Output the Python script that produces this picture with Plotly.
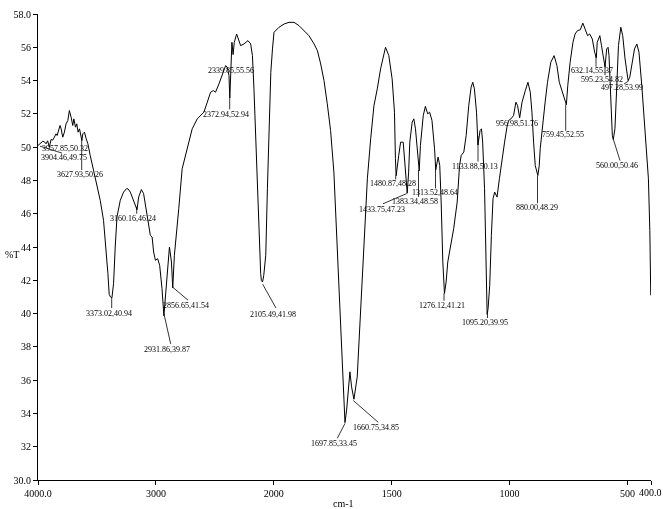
import plotly.graph_objects as go

# ---------------- data ----------------
wavenumber = [
    4000, 3985, 3974, 3960, 3946, 3932, 3918, 3904, 3889, 3875, 3861, 3847, 3838, 3824, 3813,
    3804, 3790, 3776, 3762, 3747, 3734, 3719, 3705, 3696, 3682, 3671, 3660, 3648, 3634, 3628,
    3620, 3606, 3591, 3577, 3557, 3529, 3500, 3472, 3444, 3424, 3407, 3396, 3385, 3373, 3359,
    3345, 3330, 3302, 3274, 3250, 3237, 3217, 3189, 3170, 3160, 3146, 3123, 3104, 3081, 3061,
    3047, 3032, 3019, 3004, 2985, 2968, 2948, 2932, 2913, 2899, 2885, 2868, 2857, 2843, 2826,
    2806, 2777, 2735, 2692, 2649, 2607, 2593, 2564, 2536, 2513, 2494, 2465, 2437, 2408, 2394,
    2380, 2373, 2366, 2355, 2345, 2335, 2315, 2295, 2281, 2253, 2219, 2196, 2181, 2168, 2153,
    2139, 2125, 2111, 2105, 2095, 2085, 2068, 2054, 2040, 2025, 2011, 1999, 1978, 1956, 1935,
    1914, 1893, 1872, 1851, 1829, 1815, 1801, 1787, 1773, 1759, 1745, 1730, 1716, 1705, 1698,
    1691, 1684, 1677, 1670, 1660, 1646, 1632, 1618, 1603, 1589, 1575, 1561, 1547, 1526, 1512,
    1498, 1488, 1484, 1481, 1470, 1462, 1451, 1445, 1434, 1428, 1423, 1413, 1406, 1399, 1389,
    1383, 1378, 1366, 1357, 1347, 1339, 1329, 1318, 1313, 1303, 1296, 1290, 1283, 1276, 1269,
    1262, 1251, 1237, 1222, 1212, 1205, 1194, 1184, 1173, 1163, 1156, 1149, 1140, 1134, 1125,
    1119, 1114, 1106, 1099, 1095, 1091, 1084, 1077, 1070, 1063, 1053, 1043, 1032, 1021, 1011,
    1004, 994, 983, 973, 966, 957, 947, 933, 922, 912, 905, 898, 891, 880, 874,
    870, 858, 849, 839, 825, 811, 799, 789, 778, 771, 759, 753, 743, 731, 722,
    712, 700, 689, 679, 669, 660, 649, 639, 632, 628, 617, 610, 603, 595, 588,
    582, 578, 571, 564, 560, 553, 545, 538, 528, 520, 510, 500, 497, 490, 482,
    470, 460, 451, 439, 425, 411, 405, 401,
]
transmittance = [
    50.10, 50.20, 50.26, 50.35, 50.32, 50.20, 50.38, 50.00, 50.46, 50.42, 50.60, 50.80, 50.70, 51.00, 51.30,
    51.10, 50.60, 50.90, 51.40, 51.60, 52.20, 51.80, 51.30, 51.70, 51.20, 51.40, 50.90, 51.10, 50.60, 50.40,
    50.80, 50.90, 50.50, 50.20, 49.50, 48.60, 47.80, 46.80, 45.60, 44.00, 42.40, 41.15, 41.00, 40.94, 41.80,
    44.00, 45.80, 46.80, 47.30, 47.50, 47.50, 47.30, 46.80, 46.50, 46.24, 47.00, 47.45, 47.20, 46.20, 45.20,
    44.70, 44.60, 43.70, 43.20, 43.30, 42.90, 41.50, 39.87, 41.70, 43.10, 44.00, 43.10, 41.54, 43.50, 44.70,
    46.30, 48.70, 49.90, 51.10, 51.70, 52.00, 52.10, 52.70, 53.30, 53.40, 53.30, 53.80, 54.40, 54.90, 54.80,
    54.30, 52.94, 54.50, 56.30, 55.56, 56.30, 56.80, 56.30, 56.10, 56.20, 56.40, 56.20, 55.50, 53.50, 50.50,
    47.50, 44.50, 42.40, 41.98, 41.90, 42.30, 43.50, 47.50, 51.50, 54.50, 55.90, 56.90, 57.20, 57.40, 57.50,
    57.50, 57.30, 57.00, 56.70, 56.20, 55.80, 55.00, 54.00, 52.60, 51.00, 48.50, 43.50, 39.20, 35.20, 33.45,
    34.20, 35.60, 36.50, 35.60, 34.85, 36.20, 40.10, 44.10, 48.10, 50.50, 52.50, 53.50, 54.70, 56.00, 55.50,
    54.10, 52.10, 49.30, 48.28, 49.50, 50.30, 50.30, 49.30, 47.23, 48.50, 50.30, 51.50, 51.70, 51.10, 49.30,
    48.58, 50.10, 51.90, 52.45, 52.00, 52.10, 51.60, 49.90, 48.64, 49.40, 48.90, 46.70, 43.10, 41.21, 41.90,
    43.10, 43.90, 45.10, 46.70, 48.90, 49.50, 49.70, 50.70, 52.50, 53.60, 53.90, 53.50, 52.10, 50.13, 51.00,
    51.10, 50.30, 47.50, 42.70, 39.95, 40.30, 41.70, 44.70, 46.90, 47.30, 47.00, 48.10, 49.30, 50.30, 51.20,
    51.60, 51.70, 51.90, 52.70, 52.50, 51.76, 52.70, 53.40, 53.90, 53.30, 52.10, 50.30, 48.90, 48.29, 48.90,
    49.90, 51.30, 52.70, 53.90, 55.10, 55.50, 54.90, 53.90, 53.40, 53.10, 52.55, 53.70, 55.10, 56.30, 56.80,
    57.00, 57.05, 57.45, 57.10, 56.70, 56.80, 56.50, 55.70, 55.37, 56.30, 56.70, 56.10, 55.40, 54.82, 55.90,
    56.00, 55.50, 53.50, 50.70, 50.46, 51.10, 53.70, 56.10, 57.20, 56.70, 55.30, 54.10, 53.99, 54.20, 54.90,
    55.90, 56.20, 55.70, 53.70, 50.70, 48.10, 45.00, 41.10,
]

tick_wavenumbers = [4000, 3000, 2000, 1500, 1000, 500, 400]
tick_labels = ["4000.0", "3000", "2000", "1500", "1000", "500", ""]
y_ticks = list(range(30, 59, 2))
y_tick_labels = ["30.0"] + [str(v) for v in range(32, 58, 2)] + ["58.0"]

peak_labels = [
    "3957.85,50.32", "3904.46,49.75", "3627.93,50.26", "3373.02,40.94", "3160.16,46.24",
    "2931.86,39.87", "2856.65,41.54", "2105.49,41.98", "2372.94,52.94", "2339.85,55.56",
    "1697.85,33.45", "1660.75,34.85", "1480.87,48.28", "1433.75,47.23", "1383.34,48.58",
    "1313.52,48.64", "1276.12,41.21", "1133.88,50.13", "1095.20,39.95", "956.98,51.76",
    "880.00,48.29", "759.45,52.55", "632.14,55.37", "595.23,54.82", "560.00,50.46",
    "497.28,53.99",
]

# ---------------- layout helpers ----------------
W, H = 663, 509
ML, MR, MT, MB = 38, 12, 8, 29
PW, PH = W - ML - MR, H - MT - MB
U_LEFT, U_RIGHT = 3000.0, 400.0
Y_LO, Y_HI = 30.0, 58.0

# reference pixel frame the label positions were measured in
REF_TOP, REF_BOTTOM = 11.0, 480.0


def u_of(wn):
    # spectrometer x-scale: 4000-2000 compressed 2x, 2000-400 normal
    return wn if wn <= 2000 else 2000 + (wn - 2000) / 2.0


def px_u(px):
    return U_LEFT - (px - ML) * (U_LEFT - U_RIGHT) / PW


def py_t(py):
    return Y_HI - (py - REF_TOP) * (Y_HI - Y_LO) / (REF_BOTTOM - REF_TOP)


# text centre (pixels) and leader line (pixel start, pixel end) for each label
label_layout = [
    ((65, 146.5), None),
    ((64, 155.5), ((40, 144), (62, 151))),
    ((80, 172.7), ((81.7, 137), (81.7, 168))),
    ((109.3, 312.7), ((111.7, 297), (111.7, 307))),
    ((133.3, 216.7), ((136.7, 205), (136.7, 212))),
    ((167.3, 348.3), ((164, 313), (170.7, 343))),
    ((186, 304), ((172.7, 286), (188, 299))),
    ((273.3, 313.3), ((262.7, 283), (276, 307))),
    ((226, 111.7), ((229.7, 96), (229.7, 107))),
    ((230.7, 68.3), None),
    ((334, 443.3), ((345, 423), (337.3, 438))),
    ((376, 426.7), ((353.3, 400), (378.3, 422))),
    ((393.3, 181.7), ((395.7, 173.5), (395.7, 177.5))),
    ((381.7, 207.3), ((406.7, 191.7), (383, 202))),
    ((415, 199.5), ((418.5, 168), (418.5, 195))),
    ((434.7, 190.7), ((435.5, 167), (435.5, 186.5))),
    ((441.7, 304), ((444, 292), (444, 299.5))),
    ((475, 164), ((478, 134), (478, 159.5))),
    ((485, 321.7), ((487.5, 313), (487.5, 317))),
    ((516.7, 120.7), None),
    ((536.7, 206), ((537.5, 174), (537.5, 201.5))),
    ((563.3, 132.7), ((565.7, 102), (565.7, 128.5))),
    ((591.7, 68.3), ((596, 52), (596, 64))),
    ((601.7, 76.7), ((605, 62), (605, 72.5))),
    ((616.7, 163.3), ((613.3, 137), (620, 158.5))),
    ((621.7, 85), ((628.5, 78.5), (624, 81.5))),
]

FONT = "Liberation Serif, Times New Roman, serif"

fig = go.Figure()
fig.add_trace(go.Scatter(
    x=[u_of(w) for w in wavenumber], y=transmittance, mode="lines",
    line=dict(color="black", width=1), hoverinfo="skip", showlegend=False,
))

annotations = []
shapes = []
for text, ((tx, ty), leader) in zip(peak_labels, label_layout):
    annotations.append(dict(
        x=px_u(tx), y=py_t(ty), xref="x", yref="y", text=text, showarrow=False,
        font=dict(family=FONT, size=8, color="black"), xanchor="center", yanchor="middle",
    ))
    if leader:
        (x0, y0), (x1, y1) = leader
        shapes.append(dict(type="line", xref="x", yref="y",
                           x0=px_u(x0), y0=py_t(y0), x1=px_u(x1), y1=py_t(y1),
                           line=dict(color="black", width=0.8)))

annotations += [
    dict(x=-0.043, y=0.483, xref="paper", yref="paper", text="%T", showarrow=False,
         font=dict(family=FONT, size=10, color="black"), xanchor="center", yanchor="middle"),
    dict(x=0.4976, y=-0.051, xref="paper", yref="paper", text="cm-1", showarrow=False,
         font=dict(family=FONT, size=10, color="black"), xanchor="center", yanchor="middle"),
    dict(x=u_of(400), y=0, xref="x", yref="paper", text="400.0", showarrow=False,
         font=dict(family=FONT, size=10, color="black"), xanchor="center", yanchor="top",
         xshift=-1, yshift=-5),
]

fig.update_layout(
    width=W, height=H, margin=dict(l=ML, r=MR, t=MT, b=MB),
    paper_bgcolor="white", plot_bgcolor="white",
    showlegend=False, annotations=annotations, shapes=shapes,
    xaxis=dict(
        range=[U_LEFT, U_RIGHT], tickmode="array",
        tickvals=[u_of(w) for w in tick_wavenumbers], ticktext=tick_labels,
        showgrid=False, zeroline=False, showline=True, linecolor="black", linewidth=1,
        ticks="outside", ticklen=4, tickcolor="black", tickwidth=1,
        tickfont=dict(family=FONT, size=10, color="black"),
    ),
    yaxis=dict(
        range=[Y_LO, Y_HI], tickmode="array", tickvals=y_ticks, ticktext=y_tick_labels,
        showgrid=False, zeroline=False, showline=True, linecolor="black", linewidth=1,
        ticks="outside", ticklen=4, tickcolor="black", tickwidth=1,
        tickfont=dict(family=FONT, size=10, color="black"),
    ),
)

fig.write_html(
    "out.html",
    config={"displayModeBar": False},
    post_script=(
        "document.body.style.margin='0px';document.body.style.overflow='hidden';"
        "document.querySelectorAll('.main-svg').forEach(function(s){s.style.willChange='transform';});"
    ),
)
